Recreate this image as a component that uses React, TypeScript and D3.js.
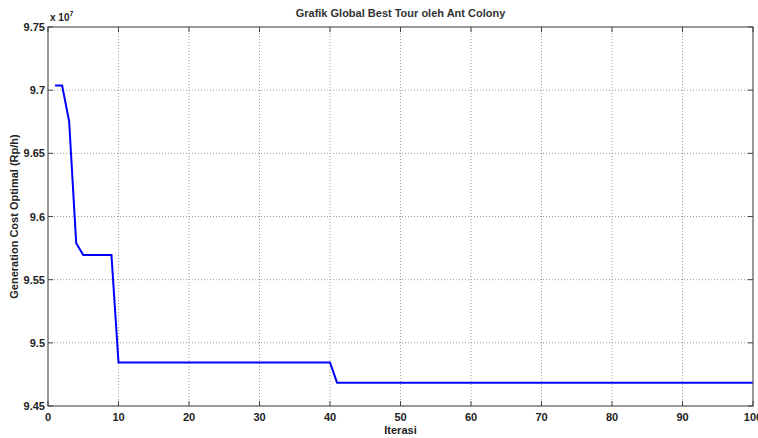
import * as d3 from "d3"

// best tour cost (x 1e7) per iteration
const iterations = d3.range(1, 101)
const bestCost = [
  9.7036, 9.7036, 9.6753, 9.5789, 9.5696, 9.5696, 9.5696, 9.5696, 9.5696, 9.4845,
  9.4845, 9.4845, 9.4845, 9.4845, 9.4845, 9.4845, 9.4845, 9.4845, 9.4845, 9.4845,
  9.4845, 9.4845, 9.4845, 9.4845, 9.4845, 9.4845, 9.4845, 9.4845, 9.4845, 9.4845,
  9.4845, 9.4845, 9.4845, 9.4845, 9.4845, 9.4845, 9.4845, 9.4845, 9.4845, 9.4845,
  9.4685, 9.4685, 9.4685, 9.4685, 9.4685, 9.4685, 9.4685, 9.4685, 9.4685, 9.4685,
  9.4685, 9.4685, 9.4685, 9.4685, 9.4685, 9.4685, 9.4685, 9.4685, 9.4685, 9.4685,
  9.4685, 9.4685, 9.4685, 9.4685, 9.4685, 9.4685, 9.4685, 9.4685, 9.4685, 9.4685,
  9.4685, 9.4685, 9.4685, 9.4685, 9.4685, 9.4685, 9.4685, 9.4685, 9.4685, 9.4685,
  9.4685, 9.4685, 9.4685, 9.4685, 9.4685, 9.4685, 9.4685, 9.4685, 9.4685, 9.4685,
  9.4685, 9.4685, 9.4685, 9.4685, 9.4685, 9.4685, 9.4685, 9.4685, 9.4685, 9.4685,
]
const xTicks = [0, 10, 20, 30, 40, 50, 60, 70, 80, 90, 100]
const yTicks = [9.45, 9.5, 9.55, 9.6, 9.65, 9.7, 9.75]
const yTickLabels = ["9.45", "9.5", "9.55", "9.6", "9.65", "9.7", "9.75"]

const width = 758
const height = 438
const margin = { top: 27, right: 5, bottom: 32, left: 48 }
const font = "'Liberation Sans', Arial, sans-serif"

const App = () => {
  const x = d3.scaleLinear().domain([0, 100]).range([margin.left, width - margin.right])
  const y = d3.scaleLinear().domain([9.45, 9.75]).range([height - margin.bottom, margin.top])

  const line = d3
    .line<number>()
    .x((_, i) => x(iterations[i]))
    .y((d) => y(d))

  const [x0, x1] = x.range()
  const [y0, y1] = y.range()
  const tick = 5

  return (
    <svg
      width={width}
      height={height}
      style={{ position: "absolute", left: 0, top: 0, background: "white" }}
      fontFamily={font}
    >
      {/* grid */}
      {xTicks.slice(1, -1).map((t) => (
        <line key={"gx" + t} x1={x(t)} x2={x(t)} y1={y0} y2={y1}
          stroke="#999" strokeWidth={1} strokeDasharray="1,2" />
      ))}
      {yTicks.slice(1, -1).map((t) => (
        <line key={"gy" + t} x1={x0} x2={x1} y1={y(t)} y2={y(t)}
          stroke="#999" strokeWidth={1} strokeDasharray="1,2" />
      ))}

      {/* data */}
      <path d={line(bestCost) ?? ""} fill="none" stroke="#0000ff" strokeWidth={2} />

      {/* box */}
      <rect x={x0} y={y1} width={x1 - x0} height={y0 - y1} fill="none" stroke="#555" strokeWidth={1.2} />

      {/* ticks */}
      {xTicks.map((t) => (
        <g key={"tx" + t}>
          <line x1={x(t)} x2={x(t)} y1={y0} y2={y0 - tick} stroke="#444" />
          <line x1={x(t)} x2={x(t)} y1={y1} y2={y1 + tick} stroke="#444" />
          <text x={x(t)} y={y0 + 15} textAnchor="middle" fontSize={11} fontWeight="bold" fill="#222">
            {t}
          </text>
        </g>
      ))}
      {yTicks.map((t, i) => (
        <g key={"ty" + t}>
          <line x1={x0} x2={x0 + tick} y1={y(t)} y2={y(t)} stroke="#444" />
          <line x1={x1} x2={x1 - tick} y1={y(t)} y2={y(t)} stroke="#444" />
          <text x={x0 - 3} y={y(t) + 4} textAnchor="end" fontSize={11} fontWeight="bold" fill="#222">
            {yTickLabels[i]}
          </text>
        </g>
      ))}

      {/* exponent */}
      <text x={x0 + 2} y={y1 - 6} fontSize={10} fontWeight="bold" fill="#222">
        x 10<tspan dy={-5} fontSize={7}>7</tspan>
      </text>

      {/* title & labels */}
      <text x={(x0 + x1) / 2} y={17} textAnchor="middle" fontSize={11} fontWeight="bold" fill="#333">
        Grafik Global Best Tour oleh Ant Colony
      </text>
      <text x={(x0 + x1) / 2} y={y0 + 28} textAnchor="middle" fontSize={11} fontWeight="bold" fill="#222">
        Iterasi
      </text>
      <text transform={`translate(18,${(y0 + y1) / 2}) rotate(-90)`} textAnchor="middle"
        fontSize={11} fontWeight="bold" fill="#222">
        Generation Cost Optimal (Rp/h)
      </text>
    </svg>
  )
}

export default App
